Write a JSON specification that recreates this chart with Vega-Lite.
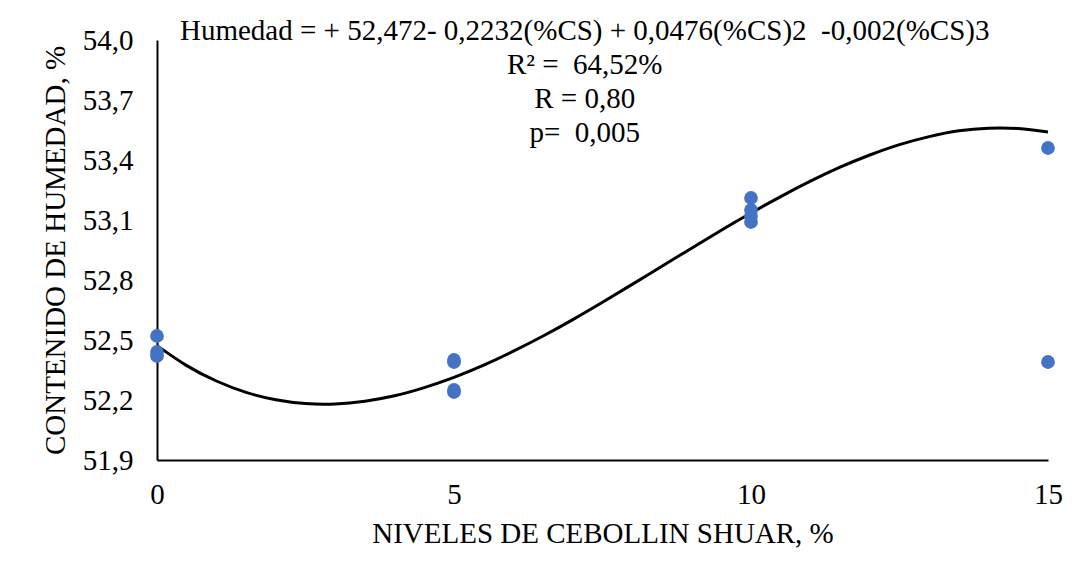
{
  "$schema": "https://vega.github.io/schema/vega-lite/v6.json",
  "width": 891,
  "height": 420,
  "autosize": {"type": "none"},
  "padding": {"left": 157, "top": 40, "right": 35, "bottom": 116},
  "background": "white",
  "config": {
    "view": {"stroke": null},
    "font": "Liberation Serif",
    "axis": {
      "grid": false,
      "ticks": false,
      "domainColor": "#000000",
      "domainWidth": 2,
      "labelFont": "Liberation Serif",
      "labelFontSize": 29,
      "labelColor": "#000000",
      "titleFont": "Liberation Serif",
      "titleFontSize": 29,
      "titleFontWeight": "normal",
      "titleColor": "#000000"
    }
  },
  "datasets": {
    "muestras": [
      {"nivel": 0, "humedad": 52.52},
      {"nivel": 0, "humedad": 52.44},
      {"nivel": 0, "humedad": 52.42},
      {"nivel": 5, "humedad": 52.40},
      {"nivel": 5, "humedad": 52.39},
      {"nivel": 5, "humedad": 52.25},
      {"nivel": 5, "humedad": 52.24},
      {"nivel": 10, "humedad": 53.21},
      {"nivel": 10, "humedad": 53.15},
      {"nivel": 10, "humedad": 53.12},
      {"nivel": 10, "humedad": 53.09},
      {"nivel": 15, "humedad": 53.46},
      {"nivel": 15, "humedad": 52.39}
    ],
    "tendencia": [
      {"nivel": 0, "humedad": 52.472},
      {"nivel": 0.5, "humedad": 52.372},
      {"nivel": 1, "humedad": 52.295},
      {"nivel": 1.5, "humedad": 52.238},
      {"nivel": 2, "humedad": 52.201},
      {"nivel": 2.5, "humedad": 52.182},
      {"nivel": 3, "humedad": 52.180},
      {"nivel": 3.5, "humedad": 52.194},
      {"nivel": 4, "humedad": 52.221},
      {"nivel": 4.5, "humedad": 52.262},
      {"nivel": 5, "humedad": 52.313},
      {"nivel": 5.5, "humedad": 52.374},
      {"nivel": 6, "humedad": 52.444},
      {"nivel": 6.5, "humedad": 52.520},
      {"nivel": 7, "humedad": 52.602},
      {"nivel": 7.5, "humedad": 52.689},
      {"nivel": 8, "humedad": 52.778},
      {"nivel": 8.5, "humedad": 52.869},
      {"nivel": 9, "humedad": 52.959},
      {"nivel": 9.5, "humedad": 53.049},
      {"nivel": 10, "humedad": 53.135},
      {"nivel": 10.5, "humedad": 53.217},
      {"nivel": 11, "humedad": 53.294},
      {"nivel": 11.5, "humedad": 53.364},
      {"nivel": 12, "humedad": 53.425},
      {"nivel": 12.5, "humedad": 53.477},
      {"nivel": 13, "humedad": 53.517},
      {"nivel": 13.5, "humedad": 53.546},
      {"nivel": 14, "humedad": 53.559},
      {"nivel": 14.5, "humedad": 53.557},
      {"nivel": 15, "humedad": 53.540}
    ]
  },
  "layer": [
    {
      "data": {"name": "tendencia"},
      "mark": {"type": "line", "color": "#000000", "strokeWidth": 3, "interpolate": "natural"},
      "encoding": {
        "x": {
          "field": "nivel",
          "type": "quantitative",
          "scale": {"domain": [0, 15], "nice": false, "zero": false},
          "axis": {
            "title": "NIVELES DE CEBOLLIN SHUAR, %",
            "values": [0, 5, 10, 15],
            "format": "d",
            "labelPadding": 20,
            "titlePadding": 10,
            "labelFlush": false
          }
        },
        "y": {
          "field": "humedad",
          "type": "quantitative",
          "scale": {"domain": [51.9, 54.0], "nice": false, "zero": false},
          "axis": {
            "title": "CONTENIDO DE HUMEDAD, %",
            "values": [51.9, 52.2, 52.5, 52.8, 53.1, 53.4, 53.7, 54.0],
            "labelExpr": "replace(format(datum.value, '.1f'), '.', ',')",
            "labelPadding": 24,
            "titlePadding": 12,
            "labelFlush": false
          }
        }
      }
    },
    {
      "data": {"name": "muestras"},
      "mark": {"type": "circle", "color": "#4472C4", "opacity": 1, "size": 190},
      "encoding": {
        "x": {"field": "nivel", "type": "quantitative"},
        "y": {"field": "humedad", "type": "quantitative"}
      }
    },
    {
      "data": {"values": [{}]},
      "mark": {
        "type": "text",
        "font": "Liberation Serif",
        "fontSize": 29,
        "color": "#000000",
        "align": "center",
        "baseline": "top",
        "lineHeight": 34
      },
      "encoding": {
        "x": {"datum": 7.2},
        "y": {"datum": 54.115},
        "text": {"value": [
          "Humedad = + 52,472- 0,2232(%CS) + 0,0476(%CS)2 \u00a0-0,002(%CS)3",
          "R² = \u00a064,52%",
          "R = 0,80",
          "p= \u00a00,005"
        ]}
      }
    }
  ]
}
